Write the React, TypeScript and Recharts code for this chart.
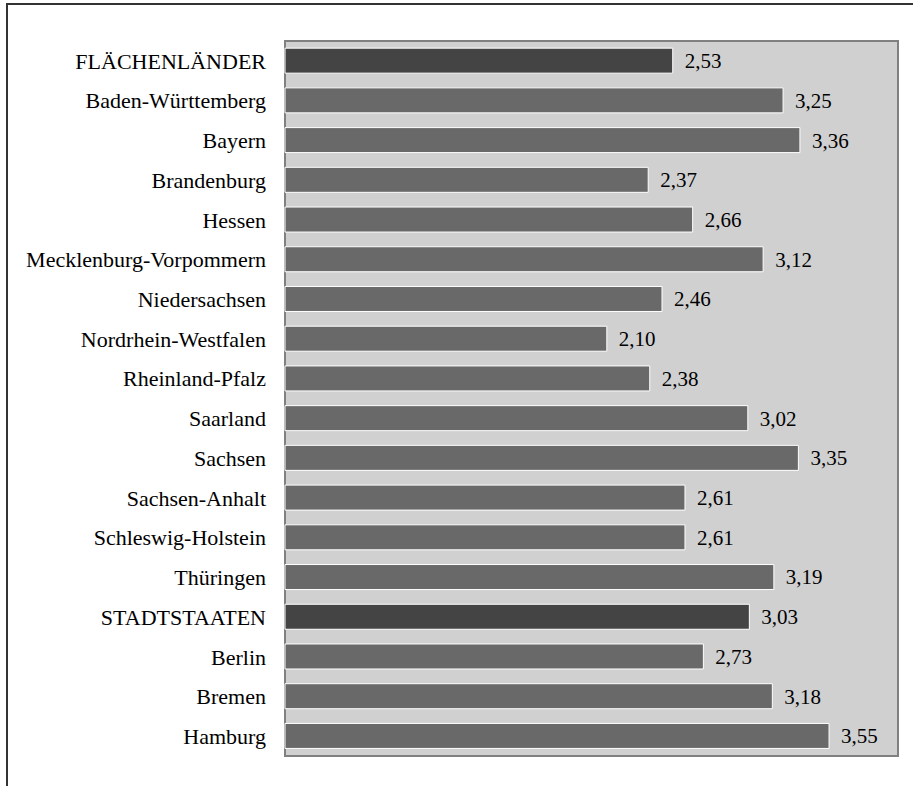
import { BarChart, Bar, XAxis, YAxis, CartesianGrid, ReferenceArea, LabelList, Cell } from 'recharts';

const laender = [
  'FLÄCHENLÄNDER', 'Baden-Württemberg', 'Bayern', 'Brandenburg', 'Hessen',
  'Mecklenburg-Vorpommern', 'Niedersachsen', 'Nordrhein-Westfalen', 'Rheinland-Pfalz',
  'Saarland', 'Sachsen', 'Sachsen-Anhalt', 'Schleswig-Holstein', 'Thüringen',
  'STADTSTAATEN', 'Berlin', 'Bremen', 'Hamburg',
];
const werte = [2.53, 3.25, 3.36, 2.37, 2.66, 3.12, 2.46, 2.10, 2.38, 3.02, 3.35, 2.61, 2.61, 3.19, 3.03, 2.73, 3.18, 3.55];
const summen = ['FLÄCHENLÄNDER', 'STADTSTAATEN'];

const data = laender.map((name, i) => ({ name, wert: werte[i] }));

const font = 'Liberation Serif';

export default function App() {
  return (
    <div style={{ position: 'absolute', left: 0, top: 0, width: 913, height: 786, background: '#fff', fontFamily: font }}>
      <div style={{ position: 'absolute', left: 6, top: 3, width: 907, height: 783, borderTop: '2px solid #333', borderLeft: '2px solid #333' }} />
      <BarChart
        width={913}
        height={786}
        data={data}
        layout="vertical"
        margin={{ top: 41, right: 15, bottom: 30, left: 0 }}
        barCategoryGap="18%"
        style={{ position: 'absolute', left: 0, top: 0, fontFamily: font }}
      >
        <CartesianGrid fill="#d0d0d0" horizontal={false} vertical={false} />
        <XAxis type="number" domain={[0, 4]} hide />
        <YAxis
          type="category"
          dataKey="name"
          width={285}
          axisLine={false}
          tickLine={false}
          tickSize={0}
          tickMargin={19}
          interval={0}
          tick={{ fill: '#000', fontSize: 22, fontFamily: font }}
        />
        <Bar dataKey="wert" stroke="#fff" strokeWidth={1} isAnimationActive={false}>
          {data.map((d) => (
            <Cell key={d.name} fill={summen.includes(d.name) ? '#444444' : '#696969'} />
          ))}
          <LabelList
            dataKey="wert"
            position="right"
            offset={12}
            formatter={(v: any) => Number(v).toFixed(2).replace('.', ',')}
            style={{ fill: '#000', fontSize: 21, fontFamily: font }}
          />
        </Bar>
        <ReferenceArea x1={0} x2={4} fill="none" stroke="#808080" strokeWidth={2} ifOverflow="visible" />
      </BarChart>
    </div>
  );
}
